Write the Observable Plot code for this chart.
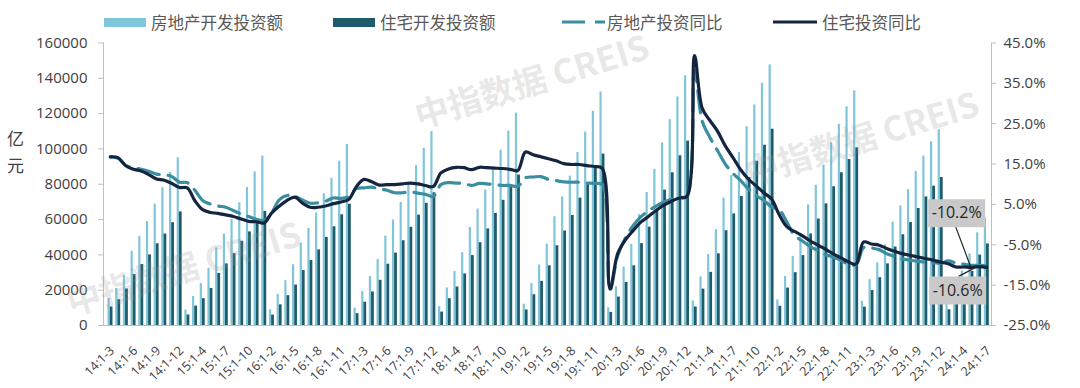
<!DOCTYPE html>
<html>
<head>
<meta charset="utf-8">
<script src="https://cdn.jsdelivr.net/npm/d3@7"></script>
<script src="https://cdn.jsdelivr.net/npm/@observablehq/plot@0.6"></script>
<style>
  body { margin: 0; background: #fff; }
  #wrap { position: relative; width: 1080px; height: 388px; overflow: hidden; background: #fff; }
  .li { position: absolute; top: 10px; height: 24px; display: flex; align-items: center; z-index: 2;
        font-family: "Noto Sans CJK SC", sans-serif; font-size: 16.5px; color: #595959; white-space: nowrap; }
  .sw { display: inline-block; margin-right: 5px; }
  #chart { position: absolute; left: 0; top: 20px; z-index: 1; }
  #unit { position: absolute; left: 7px; top: 124px; font-family: "Noto Sans CJK SC", sans-serif; z-index: 2;
          font-size: 17px; line-height: 27px; color: #404040; }
  .wm { position: absolute; font-family: "Noto Sans CJK SC", sans-serif; font-weight: 700; font-size: 34px; z-index: 3;
        color: rgba(150,150,150,0.24); transform: rotate(-17deg); transform-origin: center; white-space: nowrap;
        pointer-events: none; }
</style>
</head>
<body>
<div id="wrap">
  <div class="li" style="left:104px"><span class="sw" style="width:42px;height:9px;background:#80c6da"></span>房地产开发投资额</div>
  <div class="li" style="left:333px"><span class="sw" style="width:42px;height:9px;background:#1f5c6b"></span>住宅开发投资额</div>
  <div class="li" style="left:562px"><svg class="sw" width="43" height="10" style="margin-right:2px"><line x1="0" y1="5" x2="43" y2="5" stroke="#3a8e9f" stroke-width="3.2" stroke-dasharray="23,10"/></svg>房地产投资同比</div>
  <div class="li" style="left:773px"><svg class="sw" width="44" height="10"><line x1="0" y1="5" x2="44" y2="5" stroke="#15253f" stroke-width="3.2"/></svg>住宅投资同比</div>
  <div id="unit">亿<br>元</div>
  <div id="chart"></div>
  <div class="wm" style="left:410px;top:55px">中指数据 CREIS</div>
  <div class="wm" style="left:740px;top:112px">中指数据 CREIS</div>
  <div class="wm" style="left:62px;top:242px">中指数据 CREIS</div>
</div>
<script>
// ---------- data ----------
const categories = [
  "14:1-3","14:1-4","14:1-5","14:1-6","14:1-7","14:1-8","14:1-9","14:1-10","14:1-11","14:1-12",
  "15:1-2","15:1-3","15:1-4","15:1-5","15:1-6","15:1-7","15:1-8","15:1-9","15:1-10","15:1-11","15:1-12",
  "16:1-2","16:1-3","16:1-4","16:1-5","16:1-6","16:1-7","16:1-8","16:1-9","16:1-10","16:1-11","16:1-12",
  "17:1-2","17:1-3","17:1-4","17:1-5","17:1-6","17:1-7","17:1-8","17:1-9","17:1-10","17:1-11","17:1-12",
  "18:1-2","18:1-3","18:1-4","18:1-5","18:1-6","18:1-7","18:1-8","18:1-9","18:1-10","18:1-11","18:1-12",
  "19:1-2","19:1-3","19:1-4","19:1-5","19:1-6","19:1-7","19:1-8","19:1-9","19:1-10","19:1-11","19:1-12",
  "20:1-2","20:1-3","20:1-4","20:1-5","20:1-6","20:1-7","20:1-8","20:1-9","20:1-10","20:1-11","20:1-12",
  "21:1-2","21:1-3","21:1-4","21:1-5","21:1-6","21:1-7","21:1-8","21:1-9","21:1-10","21:1-11","21:1-12",
  "22:1-2","22:1-3","22:1-4","22:1-5","22:1-6","22:1-7","22:1-8","22:1-9","22:1-10","22:1-11","22:1-12",
  "23:1-2","23:1-3","23:1-4","23:1-5","23:1-6","23:1-7","23:1-8","23:1-9","23:1-10","23:1-11","23:1-12",
  "24:1-2","24:1-3","24:1-4","24:1-5","24:1-6","24:1-7"
];
// 房地产开发投资额 (亿元, 累计)
const reInvest = [
  15339,21009,28339,42019,50352,58862,68751,78009,86676,95036,
  8786,16400,23700,32400,43955,51800,60100,69500,78200,87000,95979,
  8932,17677,25400,34400,46631,55000,63700,74598,83300,93000,102581,
  9854,19292,27732,37400,50610,59761,69694,80644,90544,100387,109799,
  10720,21291,30592,41200,55531,65900,76700,88948,99300,110100,120264,
  12090,23803,34217,46075,61609,72843,84589,98008,109603,121265,132194,
  10115,21963,33103,45920,62780,75325,88454,103484,116556,129492,141443,
  13986,27576,40240,54318,72179,84895,98060,112568,124934,137086,147602,
  14499,27765,39154,52134,68314,79462,90809,103559,113945,123863,132895,
  13669,25974,35514,45701,58550,67717,76900,87269,95922,104045,110913,
  11842,22082,30928,40632,52529,60877
];
// 住宅开发投资额 (亿元, 累计)
const resInvest = [
  10497,14600,20700,28855,34500,40000,46300,51800,58200,64352,
  5963,11000,15200,21000,29500,34900,40700,47700,53000,58900,64595,
  5900,11700,16900,22900,31100,36800,42800,49900,55900,62700,68704,
  6700,13200,19000,25600,34700,41000,48000,55600,62500,69200,75148,
  7600,15200,21800,29200,39600,46900,54700,63500,70900,78900,85192,
  8800,17400,25000,33800,45167,53500,62300,72146,80800,89500,97071,
  7400,16100,24400,33800,46350,55700,65500,76700,86500,96100,104446,
  10500,20600,30100,40600,53700,63200,73100,83800,93000,102100,111173,
  10900,21200,29900,39600,51800,60300,68900,78600,86500,94000,100646,
  10400,19800,27100,34900,44439,51400,58300,66279,72800,78900,83820,
  8900,16600,23300,30600,39900,46200
];
// 房地产投资同比 (%)
const reYoy = [
  16.8,16.4,14.7,14.1,13.7,13.2,12.5,12.4,11.9,10.5,
  10.4,8.5,6.0,5.1,4.6,4.3,3.5,2.6,2.0,1.3,1.0,
  3.0,6.2,7.2,7.0,6.1,5.3,5.4,5.8,6.6,6.5,6.9,
  8.9,9.1,9.3,8.8,8.5,7.9,7.9,8.1,7.8,7.5,7.0,
  9.9,10.4,10.3,10.2,9.7,10.2,10.1,9.9,9.7,9.7,9.5,
  11.6,11.8,11.9,11.2,10.9,10.6,10.5,10.5,10.3,10.2,9.9,
  -16.3,-7.7,-3.3,-0.3,1.9,3.4,4.6,5.6,6.3,6.8,7.0,
  38.3,25.6,21.6,18.3,15.0,12.7,10.9,8.8,7.2,6.0,4.4,
  3.7,0.7,-2.7,-4.0,-5.4,-6.4,-7.4,-8.0,-8.8,-9.8,-10.0,
  -5.7,-5.8,-6.2,-7.2,-7.9,-8.5,-8.8,-9.1,-9.3,-9.4,-9.6,
  -9.0,-9.5,-9.8,-10.1,-10.1,-10.2
];
// 住宅投资同比 (%)
const resYoy = [
  16.8,16.6,14.6,13.7,13.3,12.4,11.3,11.0,10.2,9.2,
  9.1,5.9,3.7,3.0,2.8,2.4,2.0,1.4,0.8,0.7,0.4,
  2.9,4.6,6.0,6.8,5.3,4.3,4.3,4.6,5.2,5.6,6.2,
  9.4,11.2,10.6,9.8,9.9,9.9,10.1,10.3,10.1,9.7,9.4,
  12.8,13.8,14.2,14.1,13.6,14.2,14.1,14.0,13.9,13.7,13.4,
  18.0,17.3,16.8,16.3,15.8,15.1,14.9,14.9,14.6,14.4,13.9,
  -16.0,-7.2,-3.8,-1.5,0.6,2.0,3.5,4.8,5.8,6.6,7.0,
  41.9,28.8,25.8,23.1,19.5,16.6,13.6,11.3,9.6,7.9,6.4,
  2.5,-0.5,-1.7,-2.7,-4.0,-5.0,-6.1,-7.2,-8.2,-9.2,-9.8,
  -4.3,-4.8,-5.1,-5.9,-6.6,-7.2,-7.6,-8.0,-8.4,-8.8,-9.3,
  -9.7,-10.5,-10.5,-10.6,-10.4,-10.6
];
const leftTicks = [0, 20000, 40000, 60000, 80000, 100000, 120000, 140000, 160000];
const rightTicks = [-25, -15, -5, 5, 15, 25, 35, 45];
const xTickLabels = categories.filter((c, i) => i % 3 === 0);

// ---------- styling ----------
const C_LIGHT = "#80c6da", C_DARK = "#1f5c6b", C_DASH = "#3a8e9f", C_SOLID = "#15253f";
const AXIS_GRAY = "#bfbfbf";

// right (percentage) axis mapped into the left scale's units
const pctToY = d3.scaleLinear([rightTicks[0], rightTicks[rightTicks.length - 1]], [0, 160000]);

const data = categories.map((c, i) => ({cat: c, re: reInvest[i], res: resInvest[i], reY: reYoy[i], resY: resYoy[i]}));
const last = [data[data.length - 1]];

const boxSym = {draw(ctx) { ctx.rect(-28.5, -14, 57, 28); }};
const leadA = {draw(ctx) { ctx.moveTo(-31, -39); ctx.lineTo(-16, 1); }};
const leadB = {draw(ctx) { ctx.moveTo(-28, 9); ctx.lineTo(-11, 0); }};

const chart = Plot.plot({
  width: 1080,
  height: 368,
  marginTop: 22.5,
  marginBottom: 63,
  marginLeft: 103,
  marginRight: 89,
  x: {type: "band", domain: categories, range: [106, 990], padding: 0, axis: null},
  y: {domain: [0, 160000], axis: null},
  style: {fontFamily: "'Open Sans','Noto Sans CJK SC',sans-serif", fontSize: "15px", color: "#404040", background: "transparent"},
  marks: [
    Plot.barY(data, {x: "cat", y: "re", fill: C_LIGHT, insetLeft: 1.5, insetRight: 4.0}),
    Plot.barY(data, {x: "cat", y: "res", fill: C_DARK, insetLeft: 3.7, insetRight: 1.2}),
    Plot.frame({anchor: "left", stroke: AXIS_GRAY}),
    Plot.frame({anchor: "right", stroke: AXIS_GRAY}),
    Plot.frame({anchor: "bottom", stroke: AXIS_GRAY}),
    Plot.axisY(leftTicks, {anchor: "left", tickSize: 5, tickPadding: 11, stroke: AXIS_GRAY,
      tickFormat: d => String(d), fontSize: 15, label: null}),
    Plot.axisY(rightTicks.map(p => pctToY(p)), {anchor: "right", tickSize: 4, tickPadding: 8, stroke: AXIS_GRAY,
      tickFormat: d => pctToY.invert(d).toFixed(1) + "%", fontSize: 15, label: null}),
    Plot.axisX(xTickLabels, {anchor: "bottom", tickSize: 0, tickPadding: 23, dx: 2, tickRotate: -45, fontSize: 12.5, label: null}),
    Plot.line(data, {x: "cat", y: d => pctToY(d.reY), stroke: C_DASH, strokeWidth: 3.2,
      strokeDasharray: "22,9", curve: "catmull-rom"}),
    Plot.line(data, {x: "cat", y: d => pctToY(d.resY), stroke: C_SOLID, strokeWidth: 3.2, curve: "catmull-rom"}),
    Plot.dot(last, {x: "cat", y: d => pctToY(d.reY), symbol: leadA, fill: "none", stroke: "#262626", strokeWidth: 1.2}),
    Plot.dot(last, {x: "cat", y: d => pctToY(d.resY), symbol: leadB, fill: "none", stroke: "#262626", strokeWidth: 1.2}),
    Plot.dot(last, {x: "cat", y: d => pctToY(d.reY), symbol: boxSym, fill: "#c9c9c9", stroke: "none", dx: -30, dy: -52.5}),
    Plot.dot(last, {x: "cat", y: d => pctToY(d.resY), symbol: boxSym, fill: "#c9c9c9", stroke: "none", dx: -29, dy: 23}),
    Plot.text(last, {x: "cat", y: d => pctToY(d.reY), text: d => d.reY.toFixed(1) + "%", dx: -30, dy: -52.5,
      fontSize: 16, fill: "#262626"}),
    Plot.text(last, {x: "cat", y: d => pctToY(d.resY), text: d => d.resY.toFixed(1) + "%", dx: -29, dy: 23,
      fontSize: 16, fill: "#262626"})
  ]
});
document.getElementById("chart").appendChild(chart);
</script>
</body>
</html>
